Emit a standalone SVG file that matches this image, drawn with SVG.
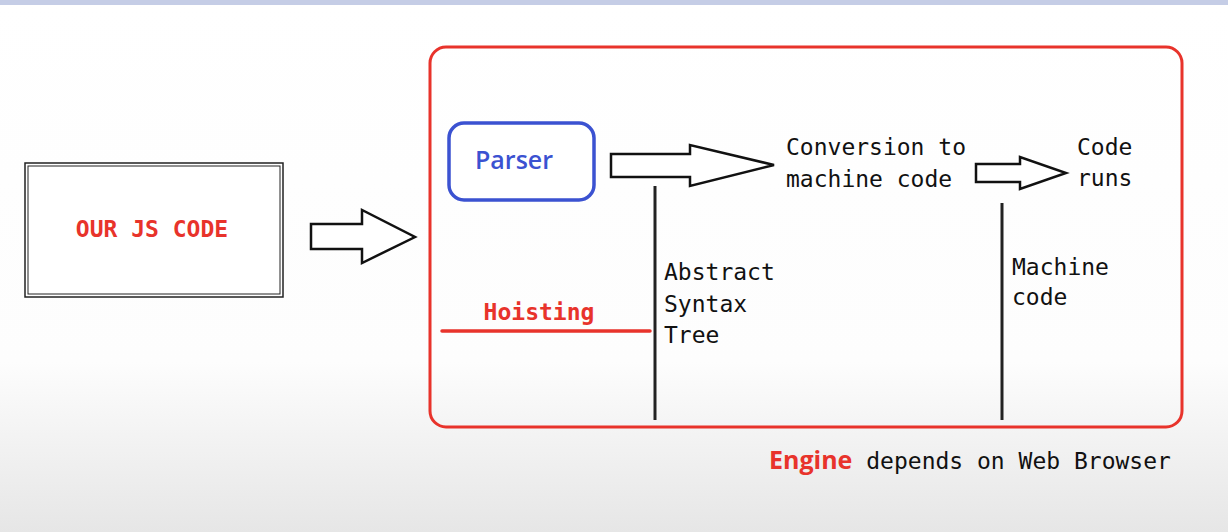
<svg xmlns="http://www.w3.org/2000/svg" width="1228" height="532" viewBox="0 0 1228 532">
<defs>
<linearGradient id="bg" x1="0" y1="0" x2="0" y2="1">
<stop offset="0" stop-color="#ffffff"/>
<stop offset="0.68" stop-color="#fdfdfd"/>
<stop offset="1" stop-color="#e6e6e6"/>
</linearGradient>
<style>
.mono{font-family:"DejaVu Sans Mono","Liberation Mono",monospace;font-size:23px;fill:#111}
.red{fill:#e8332b;font-weight:bold}
.arrow{fill:#fff;stroke:#111;stroke-width:2.5;stroke-linejoin:miter}
.vline{stroke:#222;stroke-width:3;fill:none}
</style>
</defs>
<rect x="0" y="0" width="1228" height="532" fill="url(#bg)"/>
<rect x="0" y="0" width="1228" height="5" fill="#c5cde6"/>
<g id="jscode">
<rect x="25" y="163" width="258" height="134" fill="#fff" stroke="#222" stroke-width="1.5"/>
<rect x="28" y="166" width="252" height="128" fill="none" stroke="#222" stroke-width="1"/>
<text class="mono red" x="152" y="237" text-anchor="middle">OUR JS CODE</text>
</g>
<g id="engine">
<rect x="430" y="47" width="752" height="380" rx="16" fill="none" stroke="#e8332b" stroke-width="3"/>
<text class="mono" x="769" y="469"><tspan class="red" font-family="'Open Sans',sans-serif" font-size="25">Engine</tspan> depends on Web Browser</text>
</g>
<g id="parser">
<rect x="449" y="123" width="145" height="77" rx="15" fill="#fff" stroke="#3b52d1" stroke-width="3.5"/>
<text x="514" y="169" text-anchor="middle" font-family="'Open Sans',sans-serif" font-weight="600" font-size="25" fill="#3b52d1">Parser</text>
</g>
<g id="conversion">
<text class="mono" x="786" y="155">Conversion to</text>
<text class="mono" x="786" y="187">machine code</text>
</g>
<g id="coderuns">
<text class="mono" x="1077" y="155">Code</text>
<text class="mono" x="1077" y="186">runs</text>
</g>
<g id="ast">
<text class="mono" x="664" y="280">Abstract</text>
<text class="mono" x="664" y="312">Syntax</text>
<text class="mono" x="664" y="343">Tree</text>
</g>
<g id="hoisting">
<text class="mono red" x="539" y="320" text-anchor="middle" font-family="'Open Sans',sans-serif">Hoisting</text>
</g>
<g id="machinecode">
<text class="mono" x="1012" y="275">Machine</text>
<text class="mono" x="1012" y="305">code</text>
</g>
<g id="connectors">
<path class="arrow" d="M311,224 H362 V210 L415,237 L362,263 V249 H311 Z"/>
<path class="arrow" d="M611,154 H690 V145 L774,165 L690,186 V177 H611 Z"/>
<path class="arrow" d="M976,164 H1020 V157 L1066,173 L1020,189 V182 H976 Z"/>
<line class="vline" x1="655" y1="186" x2="655" y2="420"/>
<line class="vline" x1="1002" y1="203" x2="1002" y2="420"/>
<line x1="442" y1="331" x2="650" y2="331" stroke="#e8332b" stroke-width="3.5" stroke-linecap="round"/>
</g>
</svg>
